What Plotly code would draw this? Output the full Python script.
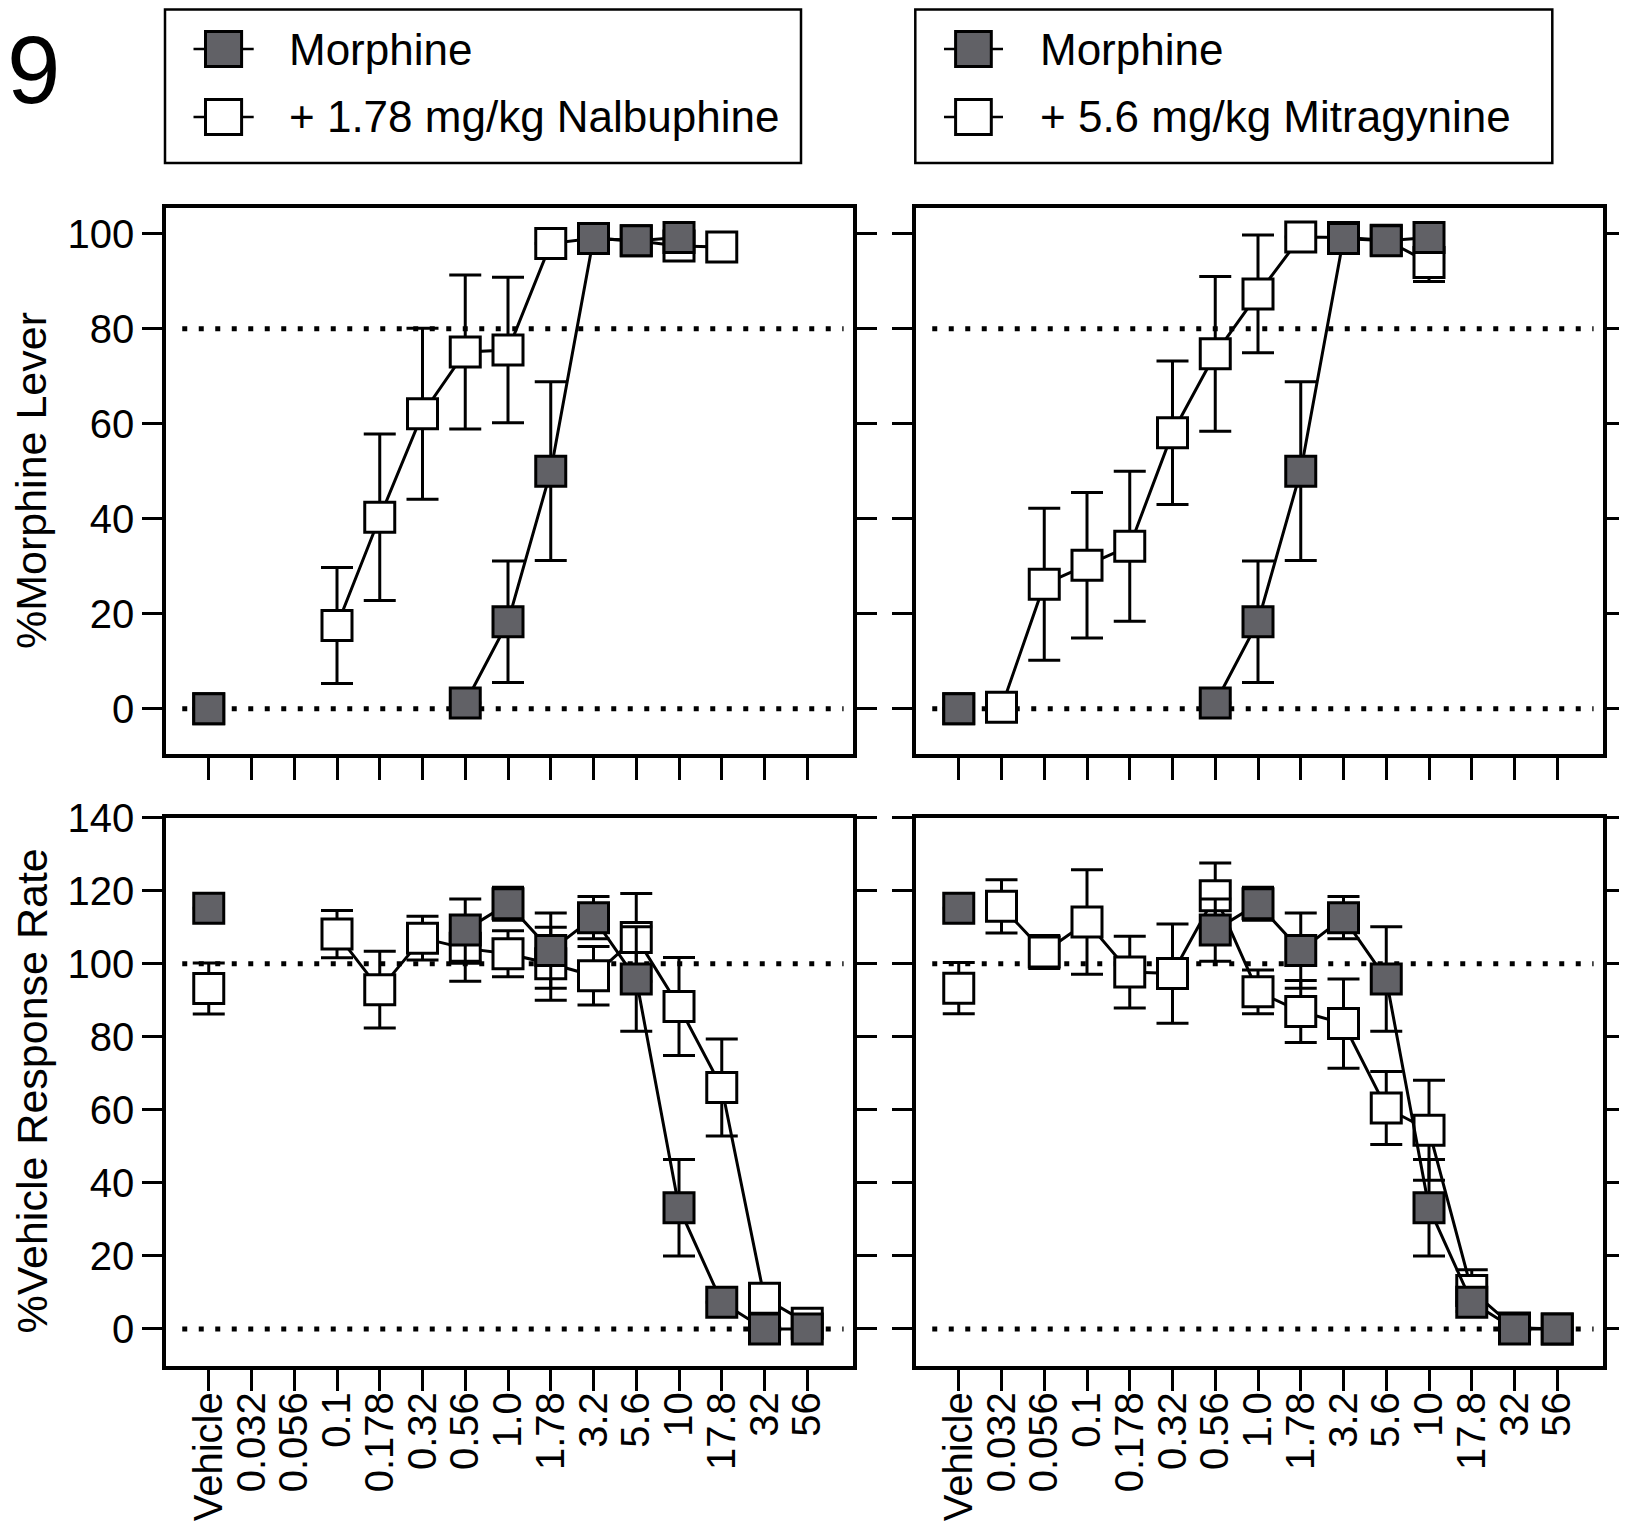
import plotly.graph_objects as go

OFF = 8                     # default page body margin of the exported html
W, H = 1627 - OFF, 1526 - OFF

# ---------------- data ----------------
doses = ["Vehicle", "0.032", "0.056", "0.1", "0.178", "0.32", "0.56", "1.0",
         "1.78", "3.2", "5.6", "10", "17.8", "32", "56"]

morphine_disc = [0, None, None, None, None, None, 1.2, 18.3, 50.0, 99.0, 98.5, 99.2, None, None, None]
morphine_disc_sem = [None, None, None, None, None, None, None, 12.8, 18.8, None, None, None, None, None, None]

nalbuphine_disc = [0, None, None, 17.5, 40.3, 62.1, 75.1, 75.5, 97.9, 99.0, 98.5, 97.4, 97.2, None, None]
nalbuphine_disc_sem = [None, None, None, 12.2, 17.5, 18.0, 16.2, 15.3, None, None, None, None, None, None, None]

mitragynine_disc = [0, 0.3, 26.2, 30.2, 34.2, 58.1, 74.7, 87.3, 99.3, 99.2, 98.6, 93.9, None, None, None]
mitragynine_disc_sem = [None, None, 16.0, 15.3, 15.8, 15.1, 16.3, 12.4, None, None, None, 4.0, None, None, None]

morphine_rate = [115.2, None, None, None, None, None, 109.2, 116.4, 103.6, 112.6, 95.8, 33.2, 7.3, 0, 0]
morphine_rate_sem = [None, None, None, None, None, None, 8.5, 4.5, 10.3, 5.8, 14.3, 13.2, None, None, None]

nalbuphine_rate = [93.2, None, None, 108.1, 92.9, 107.0, 104.2, 102.7, 100.0, 96.7, 107.2, 88.3, 66.1, 8.4, 1.6]
nalbuphine_rate_sem = [7.0, None, None, 6.5, 10.5, 6.0, 9.0, 6.3, 10.0, 8.0, 12.0, 13.4, 13.3, None, None]

mitragynine_rate = [93.3, 115.7, 103.2, 111.4, 97.7, 97.3, 118.6, 92.3, 86.9, 83.6, 60.5, 54.4, 10.5, 0.3, 0]
mitragynine_rate_sem = [7.0, 7.3, 4.5, 14.3, 9.8, 13.6, 9.0, 6.0, 8.5, 12.2, 10.0, 13.7, 5.7, None, None]

legend_left = ["Morphine", "+ 1.78 mg/kg Nalbuphine"]
legend_right = ["Morphine", "+ 5.6 mg/kg Mitragynine"]

disc_ticks = [0, 20, 40, 60, 80, 100]
rate_ticks = [0, 20, 40, 60, 80, 100, 120, 140]

# ---------------- style ----------------
FONT = "Liberation Sans, Arial, Helvetica, sans-serif"
FILL = "#616166"
MSIZE = 30
LW = 3

xs = list(range(len(doses)))


def px_x(p):
    return (p - OFF) / W


def px_y(p):
    return 1 - (p - OFF) / H


fig = go.Figure()


def add_series(xa, ya, vals, sems, color):
    # vehicle point (not connected)
    fig.add_trace(go.Scatter(
        x=xs[:1], y=vals[:1], xaxis=xa, yaxis=ya, mode="markers",
        marker=dict(symbol="square", size=MSIZE, color=color, line=dict(color="black", width=LW)),
        error_y=dict(type="data", array=sems[:1], color="black", thickness=3, width=16, visible=True),
        showlegend=False, hoverinfo="skip"))
    fig.add_trace(go.Scatter(
        x=xs[1:], y=vals[1:], xaxis=xa, yaxis=ya, mode="lines+markers",
        line=dict(color="black", width=LW),
        marker=dict(symbol="square", size=MSIZE, color=color, line=dict(color="black", width=LW)),
        error_y=dict(type="data", array=sems[1:], color="black", thickness=3, width=16, visible=True),
        showlegend=False, hoverinfo="skip"))


# top-left
add_series("x", "y", nalbuphine_disc, nalbuphine_disc_sem, "white")
add_series("x", "y", morphine_disc, morphine_disc_sem, FILL)
# top-right
add_series("x2", "y2", mitragynine_disc, mitragynine_disc_sem, "white")
add_series("x2", "y2", morphine_disc, morphine_disc_sem, FILL)
# bottom-left
add_series("x3", "y3", nalbuphine_rate, nalbuphine_rate_sem, "white")
add_series("x3", "y3", morphine_rate, morphine_rate_sem, FILL)
# bottom-right
add_series("x4", "y4", mitragynine_rate, mitragynine_rate_sem, "white")
add_series("x4", "y4", morphine_rate, morphine_rate_sem, FILL)

xd_left = [px_x(166), px_x(853)]
xd_right = [px_x(916), px_x(1603)]
yd_top = [px_y(754.3), px_y(207.5)]
yd_bot = [px_y(1365.5), px_y(817.6)]

common_x = dict(range=[-1, 15.07], tickmode="array", tickvals=xs, ticktext=doses,
                ticks="outside", ticklen=22, tickwidth=3, tickcolor="black",
                showline=True, linewidth=3.5, linecolor="black", mirror=True,
                showgrid=False, zeroline=False, automargin=False,
                tickfont=dict(family=FONT, size=40, color="black"), tickangle=-90,
                ticklabelstandoff=-15)
common_y = dict(ticks="outside", ticklen=20, tickwidth=3, tickcolor="black",
                showline=True, linewidth=3.5, linecolor="black", mirror="allticks",
                showgrid=False, zeroline=False, tickmode="array", automargin=False,
                tickfont=dict(family=FONT, size=40, color="black"))

fig.update_layout(
    xaxis=dict(common_x, domain=xd_left, anchor="y", showticklabels=False),
    xaxis2=dict(common_x, domain=xd_right, anchor="y2", showticklabels=False),
    xaxis3=dict(common_x, domain=xd_left, anchor="y3", showticklabels=True),
    xaxis4=dict(common_x, domain=xd_right, anchor="y4", showticklabels=True),
    yaxis=dict(common_y, domain=yd_top, anchor="x", range=[-9.6, 105.5], tickvals=disc_ticks, showticklabels=True),
    yaxis2=dict(common_y, domain=yd_top, anchor="x2", range=[-9.6, 105.5], tickvals=disc_ticks, showticklabels=False),
    yaxis3=dict(common_y, domain=yd_bot, anchor="x3", range=[-10, 140], tickvals=rate_ticks, showticklabels=True),
    yaxis4=dict(common_y, domain=yd_bot, anchor="x4", range=[-10, 140], tickvals=rate_ticks, showticklabels=False),
)

# dotted reference lines
shapes = []
for xr, yr, yv in [("x", "y", 80), ("x", "y", 0), ("x2", "y2", 80), ("x2", "y2", 0),
                   ("x3", "y3", 100), ("x3", "y3", 0), ("x4", "y4", 100), ("x4", "y4", 0)]:
    shapes.append(dict(type="line", xref=xr, yref=yr, x0=-0.62, x1=14.85, y0=yv, y1=yv,
                       line=dict(color="black", width=5, dash="5px,11.5px"), layer="below"))

annotations = []


def legend_box(x0, x1, lx0, lx1, sx0, sx1, tx, labels):
    shapes.append(dict(type="rect", xref="paper", yref="paper",
                       x0=px_x(x0), x1=px_x(x1), y0=px_y(163), y1=px_y(9.5),
                       line=dict(color="black", width=2.5), fillcolor="white"))
    for cy, lab, col in [(49, labels[0], FILL), (117, labels[1], "white")]:
        shapes.append(dict(type="line", xref="paper", yref="paper",
                           x0=px_x(lx0), x1=px_x(lx1), y0=px_y(cy), y1=px_y(cy),
                           line=dict(color="black", width=2.5)))
        shapes.append(dict(type="rect", xref="paper", yref="paper",
                           x0=px_x(sx0), x1=px_x(sx1), y0=px_y(cy + 17.5), y1=px_y(cy - 17.5),
                           line=dict(color="black", width=3), fillcolor=col))
        annotations.append(dict(xref="paper", yref="paper", x=px_x(tx), y=px_y(cy),
                                xanchor="left", yanchor="middle", showarrow=False, text=lab,
                                font=dict(family=FONT, size=44, color="black")))


legend_box(165, 801, 193.5, 253.7, 205.5, 241.6, 286.6, legend_left)
legend_box(915.3, 1552.3, 944, 1003, 955.6, 991.3, 1037.7, legend_right)

annotations.append(dict(xref="paper", yref="paper", x=px_x(33), y=px_y(14), xanchor="center",
                        yanchor="top", showarrow=False, text="9",
                        font=dict(family=FONT, size=96, color="black")))
annotations.append(dict(xref="paper", yref="paper", x=px_x(31), y=px_y(481), xanchor="center",
                        yanchor="middle", showarrow=False, text="%Morphine Lever", textangle=-90,
                        font=dict(family=FONT, size=43, color="black")))
annotations.append(dict(xref="paper", yref="paper", x=px_x(31), y=px_y(1091.5), xanchor="center",
                        yanchor="middle", showarrow=False, text="%Vehicle Response Rate", textangle=-90,
                        font=dict(family=FONT, size=43, color="black")))

fig.update_layout(width=W, height=H, margin=dict(l=0, r=0, t=0, b=0, pad=0, autoexpand=False),
                  paper_bgcolor="white", plot_bgcolor="white",
                  shapes=shapes, annotations=annotations, showlegend=False,
                  font=dict(family=FONT, color="black"))

fig.write_html("out.html")
